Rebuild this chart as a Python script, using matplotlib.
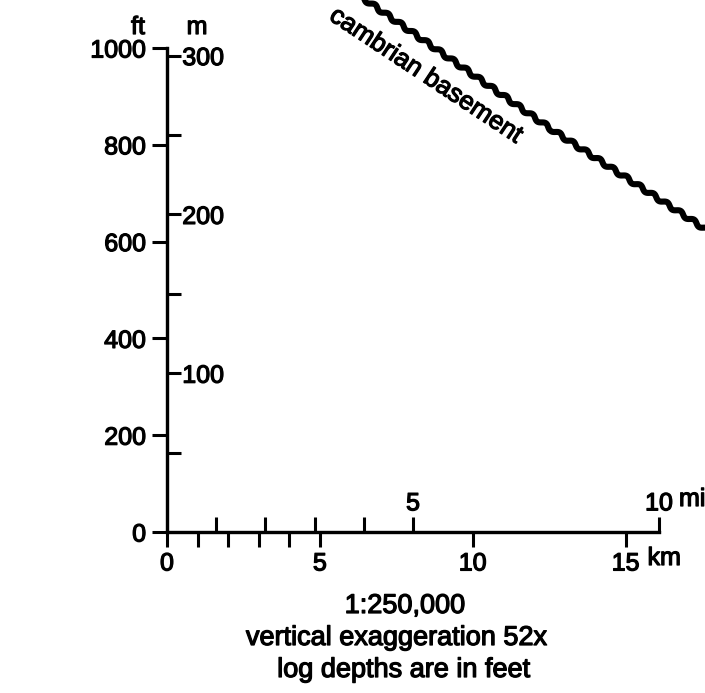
import matplotlib
matplotlib.use("Agg")
import matplotlib.pyplot as plt
import matplotlib.patheffects as pe
from matplotlib.text import Text

plt.rcParams['font.family'] = ['Liberation Sans', 'DejaVu Sans']
plt.rcParams['font.size'] = 18

# vertical scale: feet on the left, metres on the right
ft_ticks = [0, 200, 400, 600, 800, 1000]
m_ticks = [50, 100, 150, 200, 250, 300]
m_labels = ['', '100', '', '200', '', '300']

# horizontal scale: km below, miles above
km_ticks = [0, 1, 2, 3, 4, 5, 10, 15]
km_labels = ['0', '', '', '', '', '5', '10', '15']
mi_ticks = [1, 2, 3, 4, 5, 10]
mi_labels = ['', '', '', '', '5', '10']

# basement contact (distance in km, depth in ft)
basement_km = [5.8, 12.6, 18.0]
basement_ft = [1130, 831, 610]

FT_PER_M = 3.28084
KM_PER_MI = 1.609344

W, H = 705, 693
fig = plt.figure(figsize=(W / 100, H / 100), dpi=100)
ax = fig.add_axes([167 / W, 161 / H, 492 / W, 484 / H])
ax.set_xlim(0, 10 * KM_PER_MI)
ax.set_ylim(0, 1000)
ax.patch.set_visible(False)
for s in ['top', 'right']:
    ax.spines[s].set_visible(False)
for s in ['left', 'bottom']:
    ax.spines[s].set_linewidth(2.3)

ax.set_yticks(ft_ticks)
ax.tick_params(axis='y', direction='out', length=11, width=2.2, pad=4)
ax.set_xticks(km_ticks, km_labels)
ax.tick_params(axis='x', direction='out', length=11, width=2.2, pad=3)

# metres: ticks and labels to the right of the same vertical line
axm = ax.twinx()
axm.set_ylim(0, 1000 / FT_PER_M)
for s in ['top', 'bottom', 'left']:
    axm.spines[s].set_visible(False)
axm.spines['right'].set_position(('axes', 0))
axm.spines['right'].set_linewidth(2.3)
axm.set_yticks(m_ticks, m_labels)
axm.tick_params(axis='y', direction='out', length=10, width=2.2, pad=1)

# miles: ticks and labels above the same horizontal line
axmi = ax.twiny()
axmi.set_xlim(0, 10)
for s in ['bottom', 'left', 'right']:
    axmi.spines[s].set_visible(False)
axmi.spines['top'].set_position(('axes', 0))
axmi.spines['top'].set_linewidth(2.3)
axmi.set_xticks(mi_ticks, mi_labels)
axmi.tick_params(axis='x', direction='out', length=11, width=2.2, pad=1)

# unit labels
ax.annotate('km', xy=(15, 0), xycoords='data', xytext=(22, -26),
            textcoords='offset pixels', ha='left', va='center')
axmi.annotate('mi', xy=(10, 0), xycoords='data', xytext=(20, 33),
              textcoords='offset pixels', ha='left', va='center')
fig.text(138 / W, 1 - 27 / H, 'ft', ha='center', va='center')
fig.text(197 / W, 1 - 27 / H, 'm', ha='center', va='center')

# basement line (wavy)
line, = ax.plot(basement_km, basement_ft, color='black', lw=4.4,
                clip_on=False, solid_capstyle='butt')
line.set_sketch_params(scale=1.8, length=16, randomness=1)
ax.text(8.48, 943, 'cambrian basement', rotation=-33.5, fontsize=18.5,
        rotation_mode='anchor', ha='center', va='center')

# captions
fig.text(405 / W, 1 - 606 / H, '1:250,000', ha='center', va='center', fontsize=19.5)
fig.text(397 / W, 1 - 638 / H, 'vertical exaggeration 52x', ha='center', va='center',
         fontsize=19.5)
fig.text(404 / W, 1 - 670 / H, 'log depths are in feet', ha='center', va='center',
         fontsize=19.5)

# heavier type, like the printed original
for t in fig.findobj(Text):
    t.set_path_effects([pe.withStroke(linewidth=0.9, foreground='black')])

fig.savefig('out.png', dpi=100)
